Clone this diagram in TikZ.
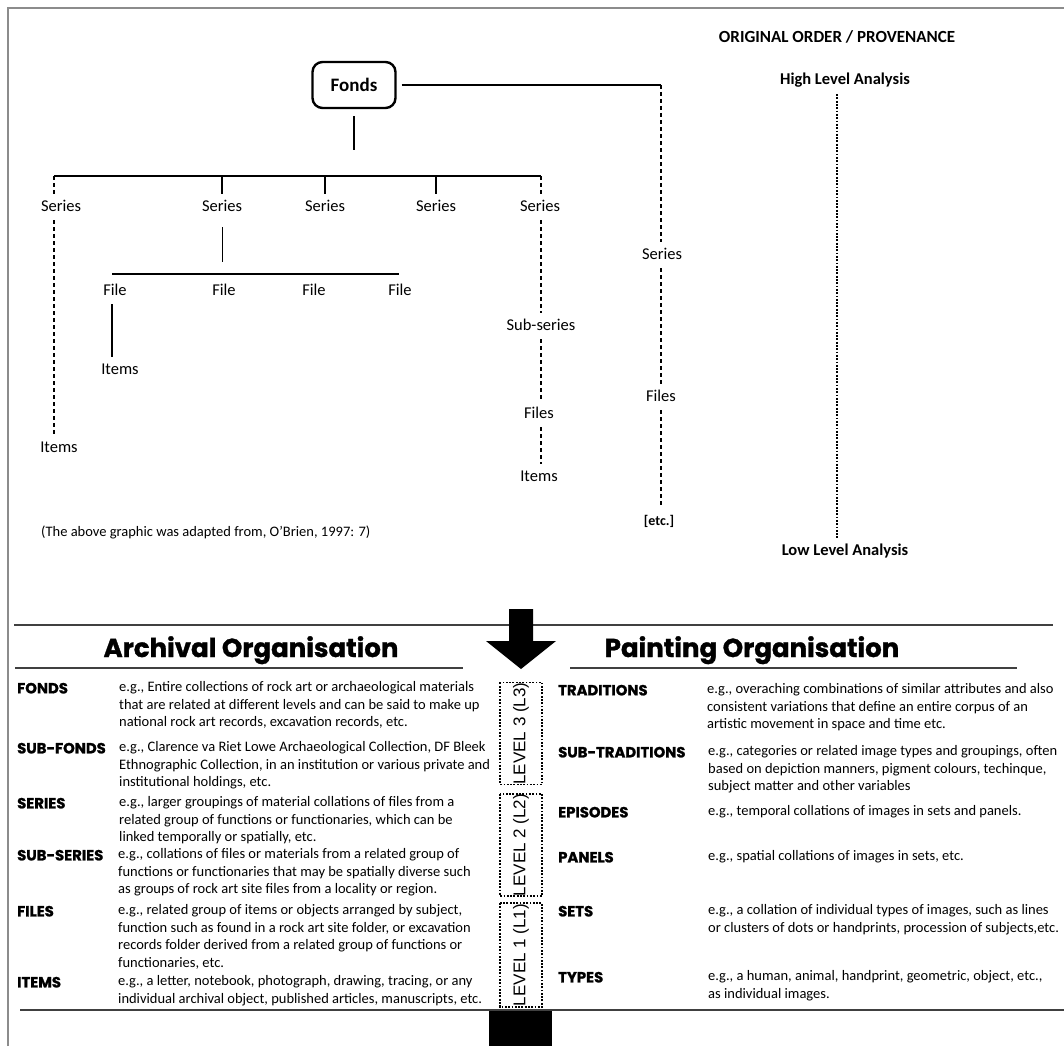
\documentclass[tikz,border=0pt]{standalone}
\usepackage{fontspec}
\setmainfont{Carlito}
\newfontfamily\headfont{Poppins}[BoldFeatures={FakeBold=1.2}]
\newfontfamily\levelfont{Liberation Sans}
\newcommand\fstrut{\rule{0pt}{11pt}}
\begin{document}
\begin{tikzpicture}[x=1pt,y=-1pt,
  tree/.style={line width=2.4pt},
  treedash/.style={line width=2.2pt, dash pattern=on 4pt off 3pt},
  thinline/.style={line width=0.9pt},
  dotline/.style={line width=2.6pt, dash pattern=on 1.8pt off 1.5pt},
  tlabel/.style={font=\fontsize{16.5}{19}\selectfont, text height=11pt, text depth=3pt, inner xsep=2pt, inner ysep=6pt},
  blabel/.style={tlabel, font=\fontsize{16.5}{19}\selectfont\bfseries},
  fondsbox/.style={draw, line width=2.4pt, rounded corners=10pt, minimum width=83pt, minimum height=46pt, font=\fontsize{19}{22}\selectfont\bfseries},
  rule/.style={line width=1.3pt, draw=black!75},
  heading/.style={anchor=base, inner sep=0pt, font=\headfont\bfseries\fontsize{26}{30}\selectfont},
  cat/.style={anchor=base west, inner sep=0pt, font=\headfont\bfseries\fontsize{14.8}{17}\selectfont},
  desc/.style={anchor=north west, inner sep=0pt, align=left, font=\fontsize{14.5}{17.5}\selectfont},
  lvl/.style={draw, line width=1.8pt, dash pattern=on 1.8pt off 1.5pt, rotate=90, minimum height=42pt, inner sep=0pt, font=\levelfont\fontsize{17}{20}\selectfont}
]
\useasboundingbox (0,0) rectangle (1064,1046);

% outer frame (left and top edges)
\draw[line width=1.5pt, draw=black!45] (8,1046) -- (8,8) -- (1064,8);

% ---------- hierarchy tree ----------
\node[fondsbox] (fonds) at (354,85) {Fonds};

\coordinate (bl) at (54,176);
\coordinate (br) at (541,176);
\coordinate (rc) at (661,85);
\coordinate (fbl) at (112,274);
\coordinate (fbr) at (399,274);
\coordinate (ax) at (837,0);

\node[tlabel] (s1) at (61,207) {Series};
\node[tlabel] (s2) at (222,207) {Series};
\node[tlabel] (s3) at (325,207) {Series};
\node[tlabel] (s4) at (436,207) {Series};
\node[tlabel] (s5) at (540,207) {Series};
\node[tlabel] (it1) at (59,448) {Items};

\node[tlabel] (f1) at (115,291) {File};
\node[tlabel] (f2) at (224,291) {File};
\node[tlabel] (f3) at (314,291) {File};
\node[tlabel] (f4) at (400,291) {File};
\node[tlabel] (it2) at (120,370) {Items};

\node[tlabel] (ss) at (541,326) {Sub-series};
\node[tlabel] (fs5) at (539,414) {Files};
\node[tlabel] (it5) at (539,477) {Items};

\node[tlabel] (s6) at (662,255) {Series};
\node[tlabel] (fs6) at (661,397) {Files};
\node[blabel, font=\fontsize{14}{16}\selectfont\bfseries] (etc) at (659,521) {[etc.]};

\node[tlabel, anchor=west, font=\fontsize{14.5}{17}\selectfont] (cap) at (39,532) {(The above graphic was adapted from, O’Brien, 1997: 7)};

% links of the tree
\draw[tree] ([xshift=5pt]fonds.east) -- (rc);
\draw[tree] ([yshift=-7pt]fonds.south) -- ++(0,34);
\draw[tree] (bl) -- (br);
\draw[tree] (bl -| s2) -- (s2.north);
\draw[tree] (bl -| s3) -- (s3.north);
\draw[tree] (bl -| s4) -- (s4.north);
\draw[treedash] (bl) -- (bl |- s1.north);
\draw[treedash] (bl |- s1.south) -- (bl |- it1.north);
\draw[thinline] ([yshift=-7pt]s2.south) -- ([yshift=12pt]fbl -| s2);
\draw[tree] (fbl) -- (fbr);
\draw[tree] (fbl |- f1.south) -- (fbl |- it2.north);

\draw[treedash] (br) -- (br |- s5.north);
\draw[treedash] (br |- s5.south) -- (br |- ss.north);
\draw[treedash] (br |- ss.south) -- (br |- fs5.north);
\draw[treedash] (br |- fs5.south) -- (br |- it5.north);

\draw[treedash] (rc) -- (rc |- s6.north);
\draw[treedash] (rc |- s6.south) -- (rc |- fs6.north);
\draw[treedash] (rc |- fs6.south) -- (rc |- etc.north);

% analysis scale
\node[blabel, font=\fontsize{17}{20}\selectfont\bfseries] (oop) at (837,39) {ORIGINAL ORDER / PROVENANCE};
\node[blabel] (hl) at (845,81) {High Level Analysis};
\node[blabel] (ll) at (845,551) {Low Level Analysis};
\draw[dotline] (ax |- hl.south) -- (ax |- ll.north);

% ---------- comparison table ----------
\coordinate (tl) at (14,625);
\coordinate (tr) at (1053,625);
\draw[rule] (tl) -- (tr);

\fill (509,609) -- (533,609) -- (533,641) -- (556,641) -- (521,669) -- (486,641) -- (509,641) -- cycle;

\node[heading] (ha) at (251,657) {Archival Organisation};
\node[heading] (hp) at (752,657) {Painting Organisation};
\draw[rule] (15,668) -- (463,668);
\draw[rule] (570,668) -- (1017,668);

\node[lvl, minimum width=101pt] (l3) at (521,733.5) {LEVEL 3 (L3)};
\node[lvl, minimum width=100pt] (l2) at (521,845) {LEVEL 2 (L2)};
\node[lvl, minimum width=104pt] (l1) at (521,955) {LEVEL 1 (L1)};

% archival side
\node[cat] (cfonds) at (17,693.4) {FONDS};
\node[desc] (dfonds) at (119,680.4) {\fstrut e.g., Entire collections of rock art or archaeological materials\\that are related at different levels and can be said to make up\\national rock art records, excavation records, etc.};
\node[cat] (csubf) at (17,753.4) {SUB-FONDS};
\node[desc] (dsubf) at (119,740.4) {\fstrut e.g., Clarence va Riet Lowe Archaeological Collection, DF Bleek\\Ethnographic Collection, in an institution or various private and\\institutional holdings, etc.};
\node[cat] (cser) at (17,808.4) {SERIES};
\node[desc] (dser) at (119,795.4) {\fstrut e.g., larger groupings of material collations of files from a\\related group of functions or functionaries, which can be\\linked temporally or spatially, etc.};
\node[cat] (csubs) at (17,860.4) {SUB-SERIES};
\node[desc] (dsubs) at (118,847.4) {\fstrut e.g., collations of files or materials from a related group of\\functions or functionaries that may be spatially diverse such\\as groups of rock art site files from a locality or region.};
\node[cat] (cfil) at (17,916.4) {FILES};
\node[desc] (dfil) at (118,903.4) {\fstrut e.g., related group of items or objects arranged by subject,\\function such as found in a rock art site folder, or excavation\\records folder derived from a related group of functions or\\functionaries, etc.};
\node[cat] (citm) at (17,987.4) {ITEMS};
\node[desc] (ditm) at (118,974.4) {\fstrut e.g., a letter, notebook, photograph, drawing, tracing, or any\\individual archival object, published articles, manuscripts, etc.};

% painting side
\node[cat] (ctrad) at (558,695.4) {TRADITIONS};
\node[desc] (dtrad) at (707,682.4) {\fstrut e.g., overaching combinations of similar attributes and also\\consistent variations that define an entire corpus of an\\artistic movement in space and time etc.};
\node[cat] (cstrad) at (558,757.4) {SUB-TRADITIONS};
\node[desc] (dstrad) at (708,744.4) {\fstrut e.g., categories or related image types and groupings, often\\based on depiction manners, pigment colours, techinque,\\subject matter and other variables};
\node[cat] (cepi) at (558,817.4) {EPISODES};
\node[desc] (depi) at (708,804.4) {\fstrut e.g., temporal collations of images in sets and panels.};
\node[cat] (cpan) at (558,862.4) {PANELS};
\node[desc] (dpan) at (708,849.4) {\fstrut e.g., spatial collations of images in sets, etc.};
\node[cat] (csets) at (558,916.4) {SETS};
\node[desc] (dsets) at (708,903.4) {\fstrut e.g., a collation of individual types of images, such as lines\\or clusters of dots or handprints, procession of subjects,etc.};
\node[cat] (ctyp) at (558,982.4) {TYPES};
\node[desc] (dtyp) at (708,969.4) {\fstrut e.g., a human, animal, handprint, geometric, object, etc.,\\as individual images.};

% closing rule and block below the level column
\draw[rule] (20,1010) -- (1064,1010);
\fill (489,1011) rectangle (552,1046);
\end{tikzpicture}
\end{document}
